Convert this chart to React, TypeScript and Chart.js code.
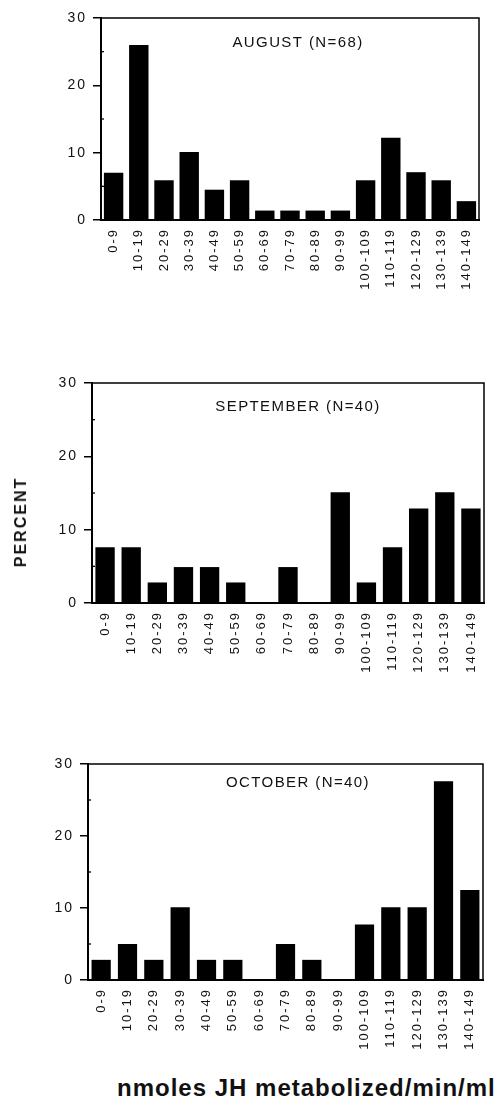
import React, { useEffect, useRef } from 'react';
import { Chart, registerables } from 'chart.js';

Chart.register(...registerables);

const categories = ['0-9', '10-19', '20-29', '30-39', '40-49', '50-59', '60-69', '70-79', '80-89', '90-99', '100-109', '110-119', '120-129', '130-139', '140-149'];
const augustValues = [7.0, 26.0, 5.9, 10.1, 4.5, 5.9, 1.4, 1.4, 1.4, 1.4, 5.9, 12.2, 7.1, 5.9, 2.8];
const septemberValues = [7.6, 7.6, 2.8, 4.9, 4.9, 2.8, 0, 4.9, 0, 15.1, 2.8, 7.6, 12.9, 15.1, 12.9];
const octoberValues = [2.8, 5.0, 2.8, 10.1, 2.8, 2.8, 0, 5.0, 2.8, 0, 7.7, 10.1, 10.1, 27.6, 12.5];
const minorTickValues = [5, 15, 25];
const yMin = 0;
const yMax = 30;
const yStep = 10;
const panelTitles = ['AUGUST (N=68)', 'SEPTEMBER (N=40)', 'OCTOBER (N=40)'];
const yAxisTitle = 'PERCENT';
const xAxisTitle = 'nmoles JH metabolized/min/ml';

const FONT = '"Liberation Sans", Arial, Helvetica, sans-serif';

type PanelProps = {
  values: number[];
  title: string;
  top: number;
  height: number;
  plotTop: number;
  plotBottom: number;
  plotLeft: number;
  plotRight: number;
  titleX: number;
  titleDy: number;
  barPct: number;
};

function Panel(p: PanelProps) {
  const ref = useRef<HTMLCanvasElement>(null);
  useEffect(() => {
    if (!ref.current) return;
    const framePlugin = {
      id: 'frame',
      beforeDraw(chart: any) {
        chart.ctx.letterSpacing = '2px';
      },
      afterDraw(chart: any) {
        const ctx = chart.ctx;
        const a = chart.chartArea;
        ctx.save();
        ctx.letterSpacing = '0px';
        ctx.strokeStyle = '#000';
        ctx.lineWidth = 1.5;
        ctx.beginPath();
        ctx.moveTo(a.left, a.top);
        ctx.lineTo(a.right, a.top);
        ctx.lineTo(a.right, a.bottom);
        ctx.stroke();
        const ys = chart.scales.y;
        ctx.lineWidth = 1.3;
        minorTickValues.forEach((v) => {
          const y = ys.getPixelForValue(v);
          ctx.beginPath();
          ctx.moveTo(a.left, y);
          ctx.lineTo(a.left + 3, y);
          ctx.stroke();
        });
        ctx.letterSpacing = '1.4px';
        ctx.font = '15px ' + FONT;
        ctx.fillStyle = '#111';
        ctx.textAlign = 'center';
        ctx.textBaseline = 'middle';
        ctx.fillText(p.title, p.titleX, a.top + p.titleDy);
        ctx.restore();
        ctx.letterSpacing = '0px';
      },
    };
    const chart = new Chart(ref.current, {
      type: 'bar',
      data: {
        labels: categories,
        datasets: [
          {
            data: p.values,
            backgroundColor: '#000',
            borderWidth: 0,
            barPercentage: p.barPct,
            categoryPercentage: 1,
          },
        ],
      },
      options: {
        animation: false,
        responsive: false,
        maintainAspectRatio: false,
        layout: {
          padding: { top: p.plotTop - p.top, right: 495 - p.plotRight, left: 0, bottom: 0 },
        },
        plugins: {
          legend: { display: false },
          tooltip: { enabled: false },
          title: { display: false },
        },
        scales: {
          x: {
            type: 'category',
            offset: true,
            grid: { display: true, drawOnChartArea: false, drawTicks: false },
            border: { display: true, color: '#000', width: 2 },
            ticks: {
              minRotation: 90,
              maxRotation: 90,
              autoSkip: false,
              padding: 8,
              color: '#111',
              font: { family: FONT, size: 13 },
            },
            afterFit(s: any) {
              s.height = p.top + p.height - p.plotBottom;
            },
          },
          y: {
            min: yMin,
            max: yMax,
            ticks: {
              stepSize: yStep,
              padding: 6,
              color: '#111',
              font: { family: FONT, size: 14 },
            },
            grid: { drawOnChartArea: false, drawTicks: true, tickLength: 8, color: '#000', lineWidth: 1.5 },
            border: { display: true, color: '#000', width: 2 },
            afterFit(s: any) {
              s.width = p.plotLeft;
            },
          },
        },
      } as any,
      plugins: [framePlugin],
    });
    return () => chart.destroy();
  }, []);
  return (
    <canvas
      ref={ref}
      width={495}
      height={p.height}
      style={{ position: 'absolute', left: 0, top: p.top, width: 495, height: p.height, display: 'block' }}
    />
  );
}

export default function App() {
  return (
    <div style={{ position: 'absolute', left: 0, top: 0, width: 495, height: 1107, overflow: 'hidden', background: '#fff' }}>
      <Panel values={augustValues} title={panelTitles[0]} top={0} height={300} plotTop={18} plotBottom={220} plotLeft={101} plotRight={479} titleX={298} titleDy={25} barPct={0.77} />
      <Panel values={septemberValues} title={panelTitles[1]} top={330} height={370} plotTop={383} plotBottom={603} plotLeft={92} plotRight={484} titleX={298} titleDy={24} barPct={0.74} />
      <Panel values={octoberValues} title={panelTitles[2]} top={720} height={340} plotTop={764} plotBottom={980} plotLeft={88} plotRight={483} titleX={298} titleDy={19} barPct={0.73} />
      <div
        style={{
          position: 'absolute',
          left: 21,
          top: 522,
          transform: 'translate(-50%, -50%) rotate(-90deg)',
          whiteSpace: 'nowrap',
          fontFamily: FONT,
          fontWeight: 'bold',
          fontSize: 16,
          letterSpacing: '2px',
          lineHeight: '16px',
          color: '#111',
        }}
      >
        {yAxisTitle}
      </div>
      <div
        style={{
          position: 'absolute',
          left: 117,
          top: 1076,
          whiteSpace: 'nowrap',
          fontFamily: FONT,
          fontWeight: 'bold',
          fontSize: 24,
          letterSpacing: '1px',
          lineHeight: '24px',
          color: '#111',
        }}
      >
        {xAxisTitle}
      </div>
    </div>
  );
}
